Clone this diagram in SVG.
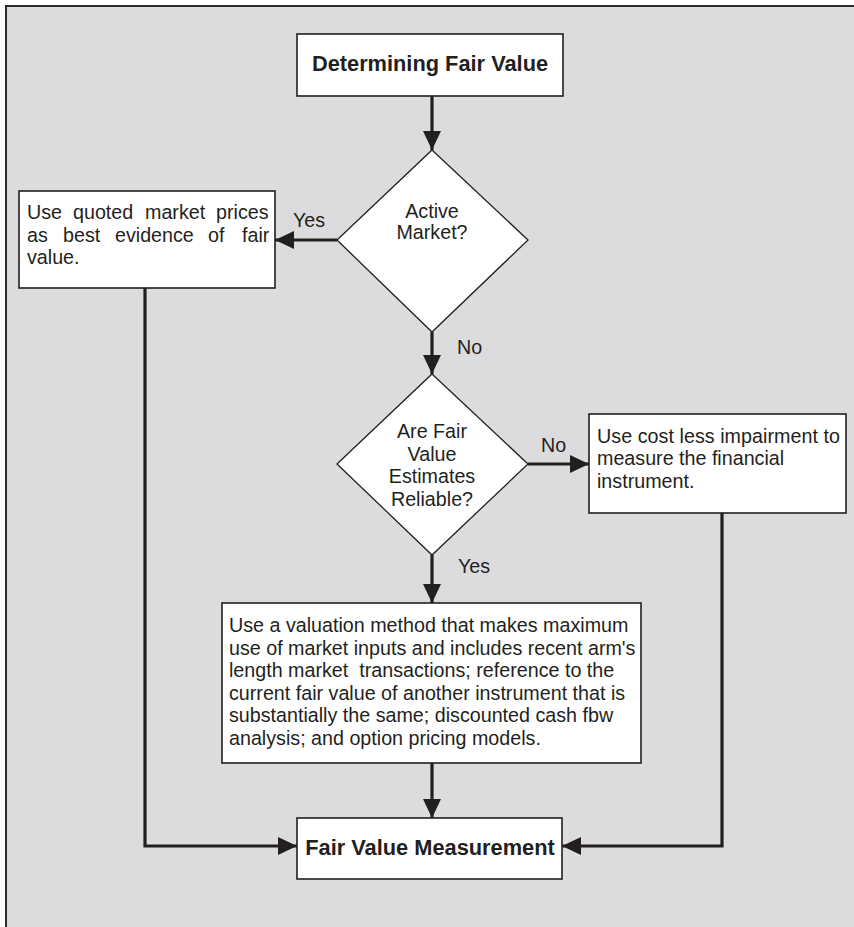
<svg xmlns="http://www.w3.org/2000/svg" width="854" height="927" viewBox="0 0 854 927">
  <style>
    .bg { fill: #dcdcde; stroke: #2b2b2b; stroke-width: 2; }
    .box { fill: #ffffff; stroke: #231f20; stroke-width: 1.6; }
    .dia { fill: #ffffff; stroke: #231f20; stroke-width: 1.3; }
    .wire { fill: none; stroke: #231f20; stroke-width: 3.2; }
    text { font-family: "Liberation Sans", Arial, Helvetica, sans-serif; fill: #231f20; }
    .t { font-size: 19.7px; }
    .b { font-size: 21.8px; font-weight: bold; }
    .c { text-anchor: middle; }
  </style>
  <defs>
    <marker id="arrow" markerUnits="userSpaceOnUse" markerWidth="19" markerHeight="18" refX="19" refY="9" orient="auto">
      <path d="M0,0 L19,9 L0,18 Z" fill="#231f20"/>
    </marker>
  </defs>

  <!-- panel -->
  <rect class="bg" x="6" y="6" width="860" height="940"/>

  <!-- connectors -->
  <g id="connectors">
    <line class="wire" x1="432" y1="96" x2="432" y2="150" marker-end="url(#arrow)"/>
    <line class="wire" x1="337" y1="240" x2="275" y2="240" marker-end="url(#arrow)"/>
    <line class="wire" x1="432" y1="332" x2="432" y2="374" marker-end="url(#arrow)"/>
    <line class="wire" x1="528" y1="464" x2="589" y2="464" marker-end="url(#arrow)"/>
    <line class="wire" x1="432" y1="555" x2="432" y2="603" marker-end="url(#arrow)"/>
    <line class="wire" x1="432" y1="763" x2="432" y2="818" marker-end="url(#arrow)"/>
    <polyline class="wire" points="145,288 145,846 297,846" marker-end="url(#arrow)"/>
    <polyline class="wire" points="722,513 722,846 562,846" marker-end="url(#arrow)"/>
    <text class="t" x="293" y="227">Yes</text>
    <text class="t" x="457" y="354">No</text>
    <text class="t" x="541" y="452">No</text>
    <text class="t" x="458" y="573">Yes</text>
  </g>

  <!-- start -->
  <g id="start">
    <rect class="box" x="297" y="34" width="266" height="62"/>
    <text class="b c" x="430" y="71">Determining Fair Value</text>
  </g>

  <!-- decision: active market -->
  <g id="active-market">
    <polygon class="dia" points="432,150 528,240 432,332 337,240"/>
    <text class="t c" x="432" y="218">Active</text>
    <text class="t c" x="432" y="239">Market?</text>
  </g>

  <!-- quoted prices (justified lines) -->
  <g id="quoted-prices">
    <rect class="box" x="19" y="191" width="256" height="97"/>
    <text class="t" y="219">
      <tspan x="27">Use</tspan><tspan x="73">quoted</tspan><tspan x="145">market</tspan><tspan x="216">prices</tspan>
    </text>
    <text class="t" y="242">
      <tspan x="27">as</tspan><tspan x="63">best</tspan><tspan x="115">evidence</tspan><tspan x="208">of</tspan><tspan x="242">fair</tspan>
    </text>
    <text class="t" x="27" y="264">value.</text>
  </g>

  <!-- decision: reliable estimates -->
  <g id="reliable-estimates">
    <polygon class="dia" points="432,374 528,464 432,555 337,464"/>
    <text class="t c" x="432" y="438">Are Fair</text>
    <text class="t c" x="432" y="461">Value</text>
    <text class="t c" x="432" y="483">Estimates</text>
    <text class="t c" x="432" y="506">Reliable?</text>
  </g>

  <!-- cost less impairment -->
  <g id="cost-less-impairment">
    <rect class="box" x="589" y="414" width="257" height="99"/>
    <text class="t" x="597" y="443" textLength="243" lengthAdjust="spacing">Use cost less impairment to</text>
    <text class="t" x="597" y="465">measure the financial</text>
    <text class="t" x="597" y="488">instrument.</text>
  </g>

  <!-- valuation method -->
  <g id="valuation-method">
    <rect class="box" x="222" y="603" width="419" height="160"/>
    <text class="t" x="229" y="632">Use a valuation method that makes maximum</text>
    <text class="t" x="229" y="654.5">use of market inputs and includes recent arm's</text>
    <text class="t" x="229" y="677" xml:space="preserve">length market  transactions; reference to the</text>
    <text class="t" x="229" y="699.5">current fair value of another instrument that is</text>
    <text class="t" x="229" y="722">substantially the same; discounted cash fbw</text>
    <text class="t" x="229" y="744.5">analysis; and option pricing models.</text>
  </g>

  <!-- result -->
  <g id="fair-value-measurement">
    <rect class="box" x="297" y="818" width="265" height="61"/>
    <text class="b c" x="430" y="855">Fair Value Measurement</text>
  </g>
</svg>
